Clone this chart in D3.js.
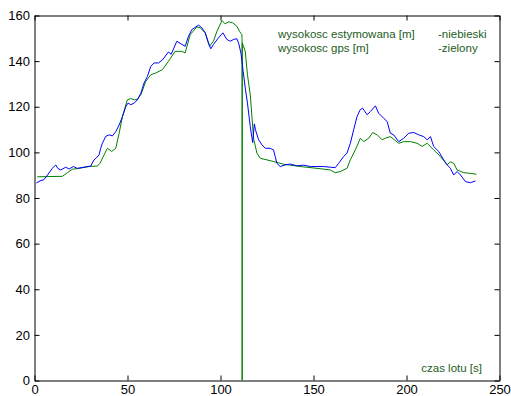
<!DOCTYPE html>
<html>
<head>
<meta charset="utf-8">
<script src="https://cdn.jsdelivr.net/npm/d3@7"></script>
<style>
  html, body { margin: 0; padding: 0; background: #fff; }
  svg { display: block; }
  .tick text { font-family: "Liberation Sans", Arial, sans-serif; font-size: 13px; fill: #000; }
  .note { font-family: "Liberation Sans", Arial, sans-serif; font-size: 11.5px; fill: #1e5c1e; }
</style>
</head>
<body>
<svg id="chart" width="511" height="396"></svg>
<script>
// Flight time [s] and estimated altitude [m] (blue)
const estTime = [1, 3, 5, 7, 9.6, 11.4, 12.5, 14.1, 16.8, 18.6, 20.9, 23, 26.6, 30.2, 32, 33, 34.7, 35.6, 36.5, 38.3,
  40.1, 41.9, 43.7, 45.5, 47.3, 49.1, 50.3, 51.8, 53.6, 55.3, 57.2, 58.9, 60.7, 62.5, 64.3, 66.6, 68.8, 72, 73.5, 76.5,
  78.3, 81, 82.8, 84.6, 88.2, 90, 91.8, 93.5, 94.8, 96.2, 98.9, 101.3, 103.4, 105.2, 107, 108.8, 109.7, 111, 112.2, 113.3,
  114.5, 116, 117.3, 118.2, 118.8, 120.5, 122.3, 124.1, 126.7, 128.5, 129.4, 130.3, 132.1, 134.8, 137.5, 141.1, 144.7, 148.3, 151.9, 155.4,
  159, 161.7, 163.5, 166.2, 168, 169.8, 171.6, 173.4, 175.1, 176.4, 178.8, 180.6, 183.3, 185, 187.7, 189.6, 191.3, 193.1, 195.8, 198.5,
  201.2, 203.9, 206.6, 209.3, 211.1, 212.9, 214.6, 217.3, 220, 221.9, 223.6, 225.4, 227.2, 229, 231.7, 234.4, 237.1];
const estAltitude = [86.6, 87.5, 88, 90.1, 93, 94.5, 93, 92.3, 93.5, 92.7, 93.8, 93, 93.5, 94, 96.7, 97.4, 98.9, 101.8, 104, 107,
  107.7, 107.2, 109.1, 112, 115.7, 120.1, 121.6, 120.9, 121.6, 123, 126, 130.4, 133.3, 137.7, 139.2, 139.2, 140.5, 144, 143, 148.7,
  147.8, 146.5, 150.9, 153.8, 155.8, 154.6, 152.4, 148, 145.4, 147.3, 150.2, 152.4, 149.5, 148.7, 149.5, 149.8, 148, 143.5, 135.5, 128.2,
  121.6, 111.3, 104.3, 112.5, 109.9, 105.5, 103.3, 101.8, 101.8, 101.1, 98.2, 95.2, 93.8, 94.5, 94.9, 94.1, 94.4, 93.8, 93.8, 93.8,
  93.5, 93.3, 95.2, 98.2, 99.6, 104, 109.9, 115.7, 118.7, 119.4, 116.5, 117.9, 120.4, 117.2, 115, 113.5, 108.4, 107.7, 104.7, 106.2,
  108.4, 108.7, 107.7, 106.9, 105.5, 106.9, 102.6, 100.4, 96.7, 94.5, 93, 90.1, 91.6, 90.1, 87.2, 86.7, 87.5];

// Flight time [s] and GPS altitude [m] (green), including the dropout to 0
const gpsTime = [1.5, 15, 17.7, 20.3, 24, 29.3, 33.8, 35.2, 37.4, 39.2, 41.5, 43.7, 45.5, 47.3, 49.9, 51.8, 53.6, 55.3, 57.2, 59.8,
  62.5, 65.2, 68.8, 72, 75.6, 79.2, 81, 83.7, 87.3, 89.1, 91.8, 94.1, 96.2, 98.1, 100.8, 102.5, 104.3, 106.5, 108.8, 110.2,
  111.5, 111.6, 111.65, 111.7, 113.3, 114.5, 116, 117.8, 119.6, 121.4, 125, 128.5, 133.9, 142.9, 151.9, 159, 161.7, 164.4, 168, 169.8,
  172.5, 175.2, 177, 179.7, 181.8, 184.2, 186.9, 188.6, 191.3, 193.5, 195.8, 198.5, 202.1, 205.7, 208.4, 211.1, 214.6, 218.2, 221.9, 223.6,
  225.4, 227.2, 230.8, 234.4, 237.6];
const gpsAltitude = [89.3, 89.5, 91.1, 92.6, 93, 93.8, 94, 95.2, 98.9, 101.8, 100.4, 101.8, 108.4, 115.7, 123, 123.6, 123, 123.3, 125.3, 131.1,
  134, 134.8, 136.3, 139.9, 144.3, 144.3, 143.6, 151.6, 155, 154.6, 152.4, 146.5, 148.7, 153.1, 157.8, 156.3, 157.2, 156.8, 155.3, 153.1,
  151.6, 149.5, 0, 148, 144.3, 134, 125.3, 106, 99.6, 97.4, 96.7, 96, 94.8, 93.8, 93, 92.3, 91.1, 91.6, 93, 96.7,
  101.1, 106.2, 104.7, 106.2, 108.7, 107.7, 105.5, 106.2, 106.9, 105.5, 104, 104.7, 104.7, 104, 102.6, 104, 101.1, 98.2, 94.5, 95.9,
  95.2, 92.3, 91.1, 90.8, 90.4];

const xTicks = [0, 50, 100, 150, 200, 250];
const yTicks = [0, 20, 40, 60, 80, 100, 120, 140, 160];

const legendNames = ["wysokosc estymowana [m]", "wysokosc gps [m]"];
const legendColours = ["-niebieski", "-zielony"];
const xLabel = "czas lotu [s]";

const svg = d3.select("#chart");

const x = d3.scaleLinear().domain([0, 250]).range([34.5, 499.5]);
const y = d3.scaleLinear().domain([0, 160]).range([380.5, 15.5]);

// Frame with inward ticks on all four sides
svg.append("g").attr("transform", `translate(0,${y(0)})`)
  .call(d3.axisBottom(x).tickValues(xTicks).tickSizeInner(-5).tickSizeOuter(0).tickPadding(4.3));
svg.append("g").attr("transform", `translate(${x(0)},0)`)
  .call(d3.axisLeft(y).tickValues(yTicks).tickSizeInner(-5).tickSizeOuter(0).tickPadding(4.5));
svg.append("g").attr("transform", `translate(0,${y(160)})`)
  .call(d3.axisTop(x).tickValues(xTicks).tickSizeInner(-5).tickSizeOuter(0).tickFormat(""));
svg.append("g").attr("transform", `translate(${x(250)},0)`)
  .call(d3.axisRight(y).tickValues(yTicks).tickSizeInner(-5).tickSizeOuter(0).tickFormat(""));

svg.selectAll(".domain").attr("stroke", "#000").attr("stroke-width", 1);
svg.selectAll(".tick line").attr("stroke", "#000");

const line = d3.line().x(d => x(d[0])).y(d => y(d[1]));

const gpsSeries = gpsTime.map((t, i) => [t, gpsAltitude[i]]);
const estSeries = estTime.map((t, i) => [t, estAltitude[i]]);

svg.append("path").datum(gpsSeries)
  .attr("d", line).attr("fill", "none").attr("stroke", "#008000").attr("stroke-width", 1);
svg.append("path").datum(estSeries)
  .attr("d", line).attr("fill", "none").attr("stroke", "#0000ff").attr("stroke-width", 1);

// Legend notes
legendNames.forEach((name, i) => {
  svg.append("text").attr("class", "note").attr("x", 278).attr("y", 37.5 + i * 14.5).text(name);
  svg.append("text").attr("class", "note").attr("x", 438).attr("y", 37.5 + i * 14.5).text(legendColours[i]);
});

svg.append("text").attr("class", "note").attr("x", 482).attr("y", 372)
  .attr("text-anchor", "end").text(xLabel);
</script>
</body>
</html>
